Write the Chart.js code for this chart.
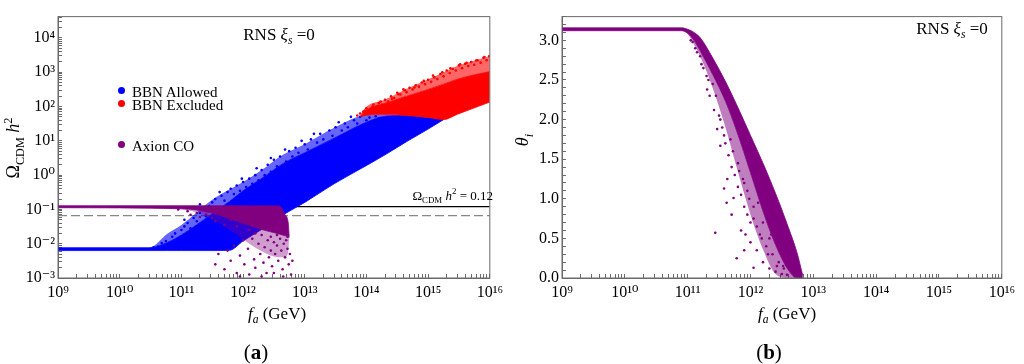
<!DOCTYPE html>
<html>
<head>
<meta charset="utf-8">
<script src="https://cdn.jsdelivr.net/npm/chart.js@4.4.0/dist/chart.umd.min.js"></script>
<style>
  body { margin: 0; background: #fff; width: 1024px; height: 364px; overflow: hidden; position: relative;
         font-family: "Liberation Serif", "DejaVu Serif", serif; color: #000; }
  .panel { position: absolute; top: 0; width: 512px; height: 364px; }
  .lbl { position: absolute; white-space: nowrap; line-height: 1; }
  .lbl sub, .lbl sup { font-size: 68%; line-height: 0; }
  .dot { position: absolute; width: 7px; height: 7px; border-radius: 50%; }
</style>
</head>
<body>
<div class="panel" style="left:0"><canvas id="graficaA" width="512" height="364"></canvas></div>
<div class="panel" style="left:512px"><canvas id="graficaB" width="512" height="364"></canvas></div>

<!-- textos del panel (a) -->
<div class="lbl" style="left:13px;top:148px;font-size:18px;transform:translate(-50%,-50%) rotate(-90deg)">Ω<sub>CDM</sub> <i>h</i><sup>2</sup></div>
<div class="lbl" style="left:279px;top:34px;font-size:17px;transform:translate(-50%,-50%)">RNS <i>ξ<sub>s</sub></i> =0</div>
<span class="dot" style="left:118px;top:87px;background:#0000ff"></span>
<div class="lbl" style="left:132px;top:92px;font-size:15px;transform:translateY(-50%)">BBN Allowed</div>
<span class="dot" style="left:118px;top:100px;background:#ff0000"></span>
<div class="lbl" style="left:132px;top:105px;font-size:15px;transform:translateY(-50%)">BBN Excluded</div>
<span class="dot" style="left:118px;top:141px;background:#800080"></span>
<div class="lbl" style="left:132px;top:146px;font-size:15px;transform:translateY(-50%)">Axion CO</div>
<div class="lbl" style="right:531px;top:195px;font-size:13px;transform:translateY(-50%)">Ω<sub>CDM</sub> <i>h</i><sup>2</sup> = 0.12</div>
<div class="lbl" style="left:277px;top:313px;font-size:17px;transform:translate(-50%,-50%)"><i>f<sub>a</sub></i> (GeV)</div>
<div class="lbl" style="left:256px;top:352px;font-size:21px;transform:translate(-50%,-50%)">(<b>a</b>)</div>

<!-- textos del panel (b) -->
<div class="lbl" style="left:522px;top:140px;font-size:18px;transform:translate(-50%,-50%) rotate(-90deg)"><i>θ<sub>i</sub></i></div>
<div class="lbl" style="left:952px;top:28px;font-size:17px;transform:translate(-50%,-50%)">RNS <i>ξ<sub>s</sub></i> =0</div>
<div class="lbl" style="left:787px;top:313px;font-size:17px;transform:translate(-50%,-50%)"><i>f<sub>a</sub></i> (GeV)</div>
<div class="lbl" style="left:769px;top:352px;font-size:21px;transform:translate(-50%,-50%)">(<b>b</b>)</div>

<script>
// Datos (valores reales, fa en GeV)

// ejes
const xTickExps = [9, 10, 11, 12, 13, 14, 15, 16];
const yTickExpsA = [-3, -2, -1, 0, 1, 2, 3, 4];
const thetaTicks = [0, 0.5, 1, 1.5, 2, 2.5, 3];

// líneas horizontales del panel (a)
const omegaCDM = 0.12;
const omegaDashed = 0.066;

// banda azul (BBN Allowed): borde inferior, borde de la zona densa, borde de los puntos sueltos
const blueX = [1e9, 3e10, 6e10, 1e11, 3e11, 6e11, 1e12, 2e12, 4.5e12, 1e13, 3e13, 1e14, 2e14, 4.5e14, 1e15, 1.8e15];
const blueLow = [0.0063, 0.0063, 0.0063, 0.0063, 0.0063, 0.0064, 0.012, 0.026, 0.07, 0.16, 0.56, 1.9, 3.9, 9.5, 22, 42];
const blueHigh = [0.0076, 0.0076, 0.011, 0.018, 0.07, 0.17, 0.35, 0.8, 2.2, 4.5, 12, 35, 52, 55, 48, 42];
const blueTop = [0.0078, 0.0078, 0.02, 0.035, 0.18, 0.38, 0.63, 1.4, 4, 8, 24, 57, 58, 55, 48, 42];
const blueDots = [
  [3.55e10, 0.0079], [4.2e10, 0.0083], [4.8e10, 0.0105], [5.6e10, 0.012], [6.3e10, 0.01], [7.1e10, 0.016],
  [7.9e10, 0.02], [8.9e10, 0.014], [1.0e11, 0.025], [1.12e11, 0.032], [1.12e11, 0.05], [1.26e11, 0.04],
  [1.41e11, 0.028], [1.58e11, 0.056], [1.78e11, 0.045], [2.0e11, 0.079], [2.0e11, 0.14], [2.24e11, 0.1],
  [2.51e11, 0.063], [2.82e11, 0.126], [3.16e11, 0.16], [3.55e11, 0.2], [3.98e11, 0.11], [4.17e11, 0.32],
  [4.47e11, 0.25], [5.0e11, 0.18], [5.6e11, 0.32], [6.3e11, 0.4], [7.1e11, 0.28], [7.9e11, 0.5],
  [8.9e11, 0.35], [9.55e11, 0.79], [1.0e12, 0.63], [1.12e12, 0.45], [1.26e12, 0.79], [1.41e12, 0.56],
  [1.58e12, 1.0], [1.66e12, 1.58], [1.78e12, 0.71], [2.0e12, 1.4], [2.24e12, 1.0], [2.51e12, 2.0],
  [2.82e12, 1.26], [2.82e12, 3.16], [3.16e12, 2.8], [3.55e12, 1.8], [3.98e12, 3.5], [4.79e12, 5.6],
  [5.0e12, 2.5], [5.6e12, 5.0], [6.3e12, 3.5], [7.1e12, 6.3], [7.9e12, 4.5], [8.9e12, 10],
  [1.0e13, 7.9], [1.12e13, 5.6], [1.26e13, 11], [1.41e13, 16], [1.58e13, 8.9], [1.78e13, 16],
  [2.0e13, 11], [2.51e13, 20], [2.82e13, 14], [3.16e13, 25], [3.55e13, 35], [3.98e13, 20],
  [4.47e13, 32], [5.0e13, 25], [5.6e13, 50], [6.3e13, 40], [7.1e13, 32], [7.9e13, 50],
  [1.0e14, 40], [1.12e14, 48], [1.26e14, 35], [1.41e14, 52], [1.58e14, 45]
];

// banda roja (BBN Excluded)
const redX = [8e13, 1e14, 2e14, 4.5e14, 1e15, 1.8e15, 3e15, 1e16];
const redLow = [50, 56, 59, 55, 48, 42, 60, 135];
const redHigh = [52, 80, 125, 200, 316, 450, 630, 1050];
const redTop = [58, 98, 160, 330, 630, 1000, 1550, 2950];
const redDots = [
  [7.1e13, 55], [7.9e13, 63], [8.9e13, 71], [9.5e13, 75], [1.0e14, 89], [1.12e14, 79], [1.26e14, 100],
  [1.3e14, 115], [1.41e14, 89], [1.58e14, 126], [1.7e14, 140], [1.78e14, 112], [2.0e14, 158],
  [2.24e14, 141], [2.51e14, 200], [2.6e14, 170], [2.82e14, 178], [3.16e14, 251], [3.3e14, 230],
  [3.55e14, 224], [3.98e14, 316], [4.2e14, 300], [4.47e14, 263], [5.0e14, 355], [5.6e14, 316],
  [6e14, 360], [6.3e14, 417], [7.1e14, 380], [7.9e14, 501], [8.5e14, 560], [8.9e14, 447],
  [1.0e15, 603], [1.12e15, 525], [1.2e15, 800], [1.26e15, 708], [1.41e15, 631], [1.58e15, 891],
  [1.7e15, 1000], [1.78e15, 759], [2.0e15, 1122], [2.24e15, 955], [2.3e15, 1300], [2.51e15, 1259],
  [2.82e15, 1122], [3.16e15, 1585], [3.3e15, 1700], [3.55e15, 1318], [3.98e15, 1778], [4.2e15, 1900],
  [4.47e15, 1514], [5.0e15, 1995], [5.6e15, 1660], [6e15, 2200], [6.3e15, 2239], [7.1e15, 1905],
  [7.9e15, 2630], [8.2e15, 2800], [8.9e15, 2239], [9.8e15, 2951]
];

// banda morada (Axion CO) del panel (a)
const purpleX = [1e9, 1e11, 3e11, 8e11, 2e12, 3.9e12, 4.8e12, 5.4e12, 5.6e12];
const purpleHigh = [0.128, 0.128, 0.128, 0.128, 0.127, 0.125, 0.07, 0.04, 0.016];
const purpleLow = [0.112, 0.105, 0.08, 0.045, 0.026, 0.019, 0.017, 0.016, 0.015];
const purpleFloor = [0.112, 0.1, 0.055, 0.018, 0.006, 0.004, 0.004, 0.006, 0.015];
const purpleDots = [
  [8.9e10, 0.1], [1.26e11, 0.089], [1.41e11, 0.07], [1.78e11, 0.079], [2.0e11, 0.06], [2.51e11, 0.071],
  [3.16e11, 0.056], [3.55e11, 0.045], [5.0e11, 0.035], [6.3e11, 0.05],
  [7.9e11, 0.032], [1.26e12, 0.025], [1.58e12, 0.02], [2.82e12, 0.016], [3.55e12, 0.018],
  [4.47e12, 0.022], [5.25e12, 0.016],
  [3.55e11, 0.0025], [3.98e11, 0.005], [5.0e11, 0.0018], [5.6e11, 0.0063], [6.3e11, 0.0032],
  [7.1e11, 0.0089], [7.9e11, 0.0014], [8.9e11, 0.0045], [1.0e12, 0.0126], [1.05e12, 0.0025],
  [1.2e12, 0.0071], [1.26e12, 0.00126], [1.41e12, 0.014], [1.51e12, 0.0035], [1.58e12, 0.002],
  [1.78e12, 0.01], [1.9e12, 0.005], [2.0e12, 0.018], [2.14e12, 0.0028], [2.24e12, 0.0079],
  [2.4e12, 0.0014], [2.51e12, 0.0126], [2.63e12, 0.004], [2.82e12, 0.0063], [2.95e12, 0.0022],
  [3.16e12, 0.011], [3.31e12, 0.005], [3.55e12, 0.0089], [3.72e12, 0.0032], [3.98e12, 0.014],
  [4.17e12, 0.0063], [4.37e12, 0.0018], [4.57e12, 0.01], [4.79e12, 0.004], [5.0e12, 0.0126],
  [5.25e12, 0.0071], [5.5e12, 0.0025], [5.75e12, 0.005], [6.0e12, 0.00126], [6.3e12, 0.0032],
  [4.47e12, 0.0011], [3.16e12, 0.0014], [2.0e12, 0.0011], [8.9e11, 0.0011]
];

// panel (b): ángulo inicial
const thetaX = [1e9, 8e10, 1e11, 1.26e11, 1.6e11, 2.5e11, 4e11, 6e11, 1e12, 1.6e12, 2.5e12, 4e12, 5.5e12, 6.8e12];
const thetaHigh = [3.158, 3.158, 3.14, 3.1, 3.03, 2.78, 2.48, 2.19, 1.8, 1.44, 1.07, 0.64, 0.32, 0.03];
const thetaLow = [3.122, 3.122, 3.09, 3.0, 2.86, 2.57, 2.23, 1.86, 1.33, 0.83, 0.42, 0.1, 0, 0];
const thetaSparse = [3.122, 3.122, 3.08, 2.95, 2.79, 2.4, 1.9, 1.4, 0.8, 0.35, 0.05, 0, 0, 0];
const thetaDots = [
  [1.12e11, 3.0], [1.2e11, 2.98], [1.32e11, 2.9], [1.41e11, 2.85], [1.58e11, 2.8], [1.66e11, 2.7],
  [1.78e11, 2.65], [2.0e11, 2.55], [2.04e11, 2.38], [2.14e11, 2.5], [2.24e11, 2.3], [2.51e11, 2.45],
  [2.63e11, 2.12], [2.82e11, 2.3], [2.95e11, 1.88], [3.16e11, 2.05], [3.31e11, 1.67], [3.31e11, 2.0],
  [3.55e11, 1.9], [3.8e11, 1.8], [3.98e11, 1.7], [4.27e11, 1.25], [3.8e11, 1.13], [4.47e11, 1.55],
  [4.79e11, 1.75], [5.01e11, 1.4], [5.25e11, 1.6], [5.37e11, 1.01], [5.62e11, 1.3], [6.31e11, 1.15],
  [6.31e11, 1.45], [6.6e11, 1.35], [7.08e11, 1.05], [7.59e11, 1.25], [7.94e11, 0.9], [7.94e11, 1.2],
  [8.91e11, 0.8], [8.91e11, 1.1], [9.55e11, 1.0], [1e12, 0.7], [5.01e11, 0.8], [4.17e11, 0.95],
  [2.75e11, 0.57], [7.08e11, 0.6], [8.32e11, 0.55], [1e12, 0.45], [1.12e12, 0.9], [1.12e12, 0.75],
  [1.26e12, 0.65], [1.26e12, 0.35], [1.32e12, 0.95], [1.41e12, 0.55], [1.51e12, 0.5], [1.58e12, 0.7],
  [1.58e12, 0.2], [1.78e12, 0.4], [1.9e12, 0.3], [2e12, 0.5], [2e12, 0.12], [2.14e12, 0.55],
  [2.24e12, 0.3], [2.51e12, 0.08], [2.63e12, 0.15], [2.82e12, 0.2], [2.95e12, 0.35], [3.16e12, 0.05],
  [3.31e12, 0.15], [3.4e12, 0.12], [3.8e12, 0.04], [6.03e11, 0.25], [7.94e11, 0.35], [1.12e12, 0.13]
];

const AZUL = '#0000ff';
const ROJO = '#ff0000';
const MORADO = '#800080';
const EJE = '#6b6b6b';
const FUENTE = '"Liberation Serif", "DejaVu Serif", serif';

const SUP = { '0': '⁰', '1': '¹', '2': '²', '3': '³', '4': '⁴', '5': '⁵', '6': '⁶', '7': '⁷', '8': '⁸', '9': '⁹', '-': '⁻' };
function potencia(e) {
  return '10' + String(e).split('').map(c => SUP[c]).join('');
}

function ticksLog(exps, max) {
  const t = [];
  exps.forEach(e => {
    for (let m = 1; m <= 9; m++) {
      const v = m * Math.pow(10, e);
      if (v <= max * 1.0001) t.push({ value: v });
    }
  });
  return t;
}

function etiquetaLog(exps) {
  return (v) => {
    const e = Math.round(Math.log10(v));
    return exps.includes(e) && Math.abs(v / Math.pow(10, e) - 1) < 1e-9 ? potencia(e) : '';
  };
}

const puntos = arr => arr.map(p => ({ x: p[0], y: p[1] }));
const linea = (xs, ys) => xs.map((x, i) => ({ x: x, y: ys[i] }));

function dots(data, color) {
  return { type: 'scatter', data: puntos(data), pointRadius: 1.3, borderWidth: 0,
           backgroundColor: color, pointHoverRadius: 0 };
}
// borde de una banda, relleno hasta el dataset indicado
function borde(xs, ys, color, relleno, ancho) {
  return { type: 'line', data: linea(xs, ys), fill: relleno, backgroundColor: color, borderColor: color,
           borderWidth: ancho, pointRadius: 0, cubicInterpolationMode: 'monotone' };
}

const marco = {
  id: 'marco',
  afterDraw(chart) {
    const { ctx, chartArea: a } = chart;
    ctx.save();
    ctx.strokeStyle = EJE;
    ctx.lineWidth = 1;
    ctx.strokeRect(a.left, a.top, a.right - a.left, a.bottom - a.top);
    ctx.restore();
  }
};

function ejeX() {
  return {
    type: 'logarithmic', position: 'bottom', min: 1e9, max: 1e16,
    afterBuildTicks: s => { s.ticks = ticksLog(xTickExps, 1e16); },
    afterFit: s => { s.height = 86; },
    grid: { drawOnChartArea: false, tickLength: -4, tickColor: EJE },
    border: { color: EJE },
    ticks: { autoSkip: false, maxRotation: 0, padding: 9, color: '#000',
             font: { family: FUENTE, size: 16 }, callback: etiquetaLog(xTickExps) }
  };
}

function crearPanelA() {
  const ctx = document.getElementById('graficaA');
  new Chart(ctx, {
    type: 'scatter',
    data: {
      datasets: [
        dots(purpleDots, MORADO),
        borde(purpleX, purpleHigh, MORADO, '+1', 0.8),
        borde(purpleX, purpleLow, MORADO, false, 0.8),
        borde(purpleX, purpleFloor, 'rgba(128,0,128,0.38)', '-1', 0),
        dots(redDots, ROJO),
        borde(redX, redTop, 'rgba(255,0,0,0.6)', '+1', 0),
        borde(redX, redHigh, ROJO, '+1', 0.8),
        borde(redX, redLow, ROJO, false, 0.8),
        dots(blueDots, AZUL),
        borde(blueX, blueTop, 'rgba(0,0,255,0.6)', '+1', 0),
        borde(blueX, blueHigh, AZUL, '+1', 0.8),
        borde(blueX, blueLow, AZUL, false, 0.8),
        { type: 'line', data: linea([1e9, 1e16], [omegaCDM, omegaCDM]), borderColor: '#000',
          borderWidth: 1.3, pointRadius: 0, fill: false },
        { type: 'line', data: linea([1e9, 1e16], [omegaDashed, omegaDashed]), borderColor: '#888',
          borderWidth: 1.2, borderDash: [9, 4], pointRadius: 0, fill: false }
      ]
    },
    options: {
      responsive: false,
      animation: false,
      events: [],
      layout: { padding: { left: 0, right: 15, top: 6, bottom: 0 } },
      plugins: { legend: { display: false }, tooltip: { enabled: false } },
      scales: {
        x: ejeX(),
        y: {
          type: 'logarithmic', min: 1e-3, max: 4.2e4,
          afterBuildTicks: s => { s.ticks = ticksLog(yTickExpsA, 4.2e4); },
          afterFit: s => { s.width = 58; },
          grid: { drawOnChartArea: false, tickLength: -4, tickColor: EJE },
          border: { color: EJE },
          ticks: { autoSkip: false, padding: 7, color: '#000',
                   font: { family: FUENTE, size: 16 }, callback: etiquetaLog(yTickExpsA) }
        }
      }
    },
    plugins: [marco]
  });
}

function crearPanelB() {
  const ctx = document.getElementById('graficaB');
  new Chart(ctx, {
    type: 'scatter',
    data: {
      datasets: [
        dots(thetaDots, MORADO),
        borde(thetaX, thetaHigh, MORADO, '+1', 0.8),
        borde(thetaX, thetaLow, MORADO, false, 0.8),
        borde(thetaX, thetaSparse, 'rgba(128,0,128,0.5)', '-1', 0)
      ]
    },
    options: {
      responsive: false,
      animation: false,
      events: [],
      layout: { padding: { left: 0, right: 14, top: 1, bottom: 0 } },
      plugins: { legend: { display: false }, tooltip: { enabled: false } },
      scales: {
        x: ejeX(),
        y: {
          type: 'linear', min: 0, max: 3.3,
          afterBuildTicks: s => {
            const t = [];
            for (let k = 0; k <= 33; k++) t.push({ value: k / 10 });
            s.ticks = t;
          },
          afterFit: s => { s.width = 50; },
          grid: { drawOnChartArea: false, tickLength: -4, tickColor: EJE },
          border: { color: EJE },
          ticks: { autoSkip: false, padding: 7, color: '#000', font: { family: FUENTE, size: 16 },
                   callback: v => thetaTicks.some(t => Math.abs(t - v) < 1e-6) ? v.toFixed(1) : '' }
        }
      }
    },
    plugins: [marco]
  });
}

crearPanelA();
crearPanelB();
</script>
</body>
</html>
